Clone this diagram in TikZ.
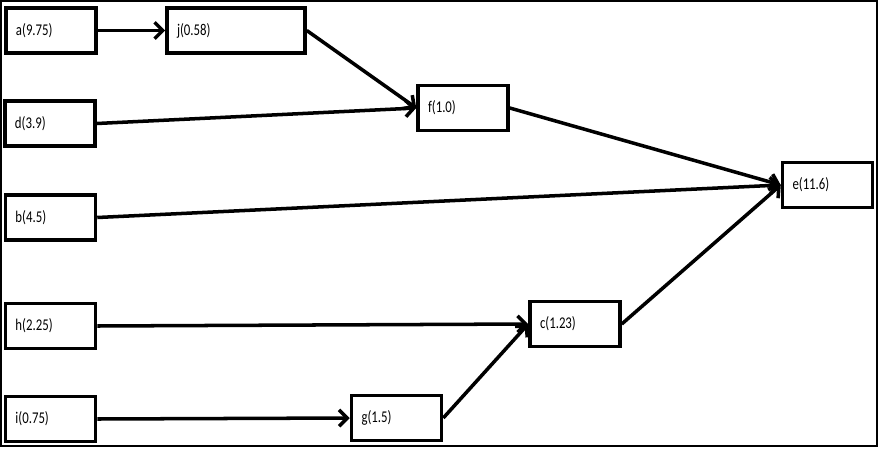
\documentclass[tikz,border=0pt]{standalone}
\usepackage{fontspec}
\setmainfont{Carlito}
\usetikzlibrary{arrows.meta}

\begin{document}
\begin{tikzpicture}[
  x=0.03cm, y=-0.03cm,
  task/.style={draw,line width=3pt,minimum height=1.35cm,inner xsep=0.3cm,
    text width=2.1cm,align=left,
    font=\fontsize{14}{16}\selectfont\addfontfeature{FakeStretch=0.78}},
  wide/.style={text width=3.54cm},
  arr/.style={line width=3pt,-{Straight Barb[length=7pt,width=14pt]}}
]
  \useasboundingbox (0,0) rectangle (879,448);
  % Frame
  \draw[line width=0.9pt] (1,1) rectangle (877,446);

  % Activities
  \node[task] (a) at (51,30.5)  {a(9.75)};
  \node[task,wide] (j) at (236,30.5) {j(0.58)};
  \node[task] (d) at (50,123.5) {d(3.9)};
  \node[task] (f) at (463,108)  {f(1.0)};
  \node[task] (b) at (50.5,217.5) {b(4.5)};
  \node[task] (e) at (827.5,185) {e(11.6)};
  \node[task] (h) at (50.5,326) {h(2.25)};
  \node[task] (c) at (575,324)  {c(1.23)};
  \node[task] (i) at (50.5,419) {i(0.75)};
  \node[task] (g) at (396.5,418) {g(1.5)};

  % Precedences
  \draw[arr] (a.east) -- (j.west);
  \draw[arr] (j.east) -- (f.west);
  \draw[arr] (d.east) -- (f.west);
  \draw[arr] (f.east) -- (e.west);
  \draw[arr] (b.east) -- (e.west);
  \draw[arr] (h.east) -- (c.west);
  \draw[arr] (i.east) -- (g.west);
  \draw[arr] (g.east) -- (c.west);
  \draw[arr] (c.east) -- (e.west);
\end{tikzpicture}
\end{document}
